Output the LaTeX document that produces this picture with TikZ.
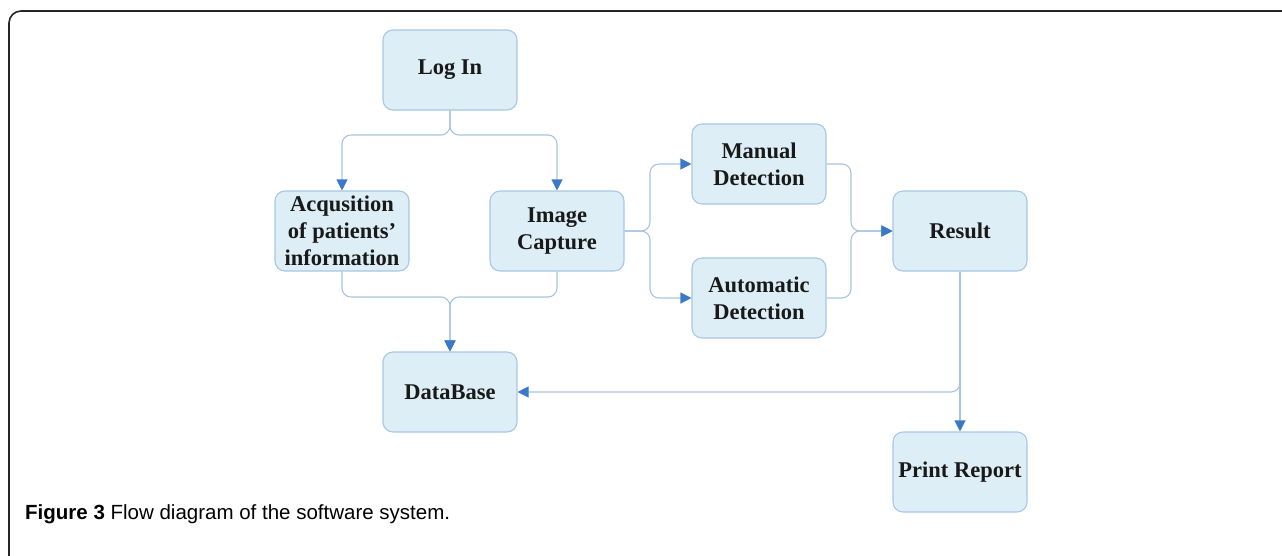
\documentclass[tikz,border=0pt]{standalone}
\usepackage{fontspec}
\setmainfont{Liberation Serif}
\newfontfamily\capfont{Liberation Sans}
\usetikzlibrary{arrows.meta}
\definecolor{boxfill}{HTML}{DDEEF6}
\definecolor{boxline}{HTML}{A7C7E2}
\definecolor{connline}{HTML}{A9C4DC}
\definecolor{tipblue}{HTML}{3A78C8}
\tikzset{
  stepbox/.style={draw=boxline, fill=boxfill, line width=1.1pt, rounded corners=10pt,
    minimum width=134pt, minimum height=80pt, align=center, inner sep=2pt,
    font=\fontsize{22.5}{27}\selectfont\bfseries, text=black!90},
  conn/.style={draw=connline, line width=1.1pt, rounded corners=9pt},
  arr/.style={conn, -{Triangle[length=11pt,width=11pt,color=tipblue]}}
}
\begin{document}
\begin{tikzpicture}[x=1pt,y=-1pt]
\useasboundingbox (0,0) rectangle (1282,555);
% frame
\draw[line width=1.6pt, black!85, rounded corners=12pt] (9,560) -- (9,11) -- (1290,11);
% nodes
\node[stepbox] (login) at (450,70) {Log In};
\node[stepbox] (acq) at (342,231) {Acqusition\\of patients'\\information};
\node[stepbox] (img) at (557,231) {Image\\Capture};
\node[stepbox] (man) at (759,164) {Manual\\Detection};
\node[stepbox] (auto) at (759,298) {Automatic\\Detection};
\node[stepbox] (res) at (960,231) {Result};
\node[stepbox] (db) at (450,392) {DataBase};
\node[stepbox] (rep) at (960,472) {Print Report};
% connectors
\coordinate (j1) at (450,135);
\coordinate (j2) at (450,297);
\coordinate (j3) at (650,231);
\coordinate (j4) at (851,231);
\draw[arr] (login.south) -- (j1) -| (acq.north);
\draw[arr] (login.south) -- (j1) -| (img.north);
\draw[arr] (acq.south) |- (j2) -- (db.north);
\draw[arr] (img.south) |- (j2) -- (db.north);
\draw[arr] (img.east) -- (j3) |- (man.west);
\draw[arr] (img.east) -- (j3) |- (auto.west);
\draw[arr] (man.east) -| (j4) -- (res.west);
\draw[arr] (auto.east) -| (j4) -- (res.west);
\draw[arr] (res.south) |- (db.east);
\draw[arr] (res.south) -- (rep.north);
% caption
\node[anchor=base west, inner sep=0pt, font=\capfont\fontsize{20.5}{24}\selectfont] (cap) at (25,519)
  {\textbf{Figure 3} Flow diagram of the software system.};
\end{tikzpicture}
\end{document}
